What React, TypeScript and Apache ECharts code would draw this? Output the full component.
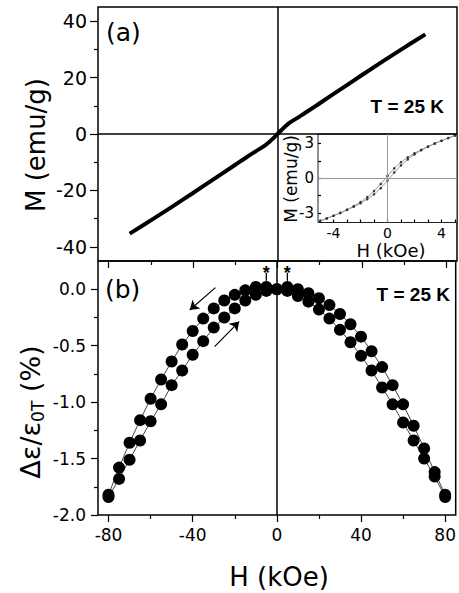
import React, { useEffect, useRef } from 'react';
import * as echarts from 'echarts';

// ---- Panel (a): magnetisation loop ----
const magH = [-70, -60, -50, -40, -30, -20, -15, -10, -6, -4, -2, 0, 2, 4, 6, 10, 15, 20, 30, 40, 50, 60, 70];
const magM = [-35.3, -30.6, -25.8, -20.9, -15.9, -10.9, -8.4, -6.0, -4.1, -2.9, -1.5, 0, 1.5, 2.9, 4.1, 6.0, 8.4, 10.9, 15.9, 20.9, 25.8, 30.6, 35.3];

// ---- Inset: low-field loop ----
const insetH = [-5, -4.5, -4, -3.5, -3, -2.5, -2, -1.5, -1, -0.5, 0, 0.5, 1, 1.5, 2, 2.5, 3, 3.5, 4, 4.5, 5];
const insetMDown = [-3.68, -3.45, -3.22, -2.98, -2.7, -2.4, -2.05, -1.62, -1.1, -0.5, 0.2, 0.85, 1.38, 1.8, 2.15, 2.45, 2.72, 2.98, 3.22, 3.45, 3.68];
const insetMUp = [-3.68, -3.45, -3.22, -2.98, -2.72, -2.45, -2.15, -1.8, -1.38, -0.85, -0.2, 0.5, 1.1, 1.62, 2.05, 2.4, 2.7, 2.98, 3.22, 3.45, 3.68];

// ---- Panel (b): magnetostriction ----
const strainH = [-80, -75, -70, -65, -60, -55, -50, -45, -40, -35, -30, -25, -20, -15, -10, -5, 0, 5, 10, 15, 20, 25, 30, 35, 40, 45, 50, 55, 60, 65, 70, 75, 80];
const strainOuter = [-1.82, -1.58, -1.36, -1.16, -0.97, -0.8, -0.64, -0.49, -0.37, -0.26, -0.17, -0.1, -0.05, -0.01, 0.02, 0.02, 0.0, 0.02, 0.0, -0.035, -0.08, -0.14, -0.22, -0.31, -0.42, -0.55, -0.69, -0.85, -1.02, -1.21, -1.41, -1.62, -1.82];
const strainInner = [-1.84, -1.68, -1.51, -1.34, -1.17, -1.02, -0.85, -0.72, -0.58, -0.46, -0.34, -0.25, -0.17, -0.1, -0.05, -0.015, 0.0, -0.015, -0.06, -0.11, -0.18, -0.26, -0.36, -0.47, -0.59, -0.72, -0.87, -1.02, -1.18, -1.34, -1.5, -1.66, -1.84];
const starH = [-5, 5];
const starLevel = 0.11;
const arrowSegments = [
  [[-29.2, 0.014], [-41.4, -0.184]],
  [[-29.6, -0.509], [-17.9, -0.287]],
];

// ---- Ticks ----
const hMajor = [-80, -40, 0, 40, 80];
const hMinor = [-60, -20, 20, 60];
const mMajor = [-40, -20, 0, 20, 40];
const mMinor = [-30, -10, 10, 30];
const sMajor = [-2, -1.5, -1, -0.5, 0];
const sLabels = ['-2.0', '-1.5', '-1.0', '-0.5', '0.0'];
const sMinor = [-1.75, -1.25, -0.75, -0.25];
const insetHLabels = [-4, 0, 4];
const insetHTicks = [-5, -4, -3, -2, -1, 0, 1, 2, 3, 4, 5];
const insetMLabels = [-3, 0, 3];
const insetMTicks = [-3, -1.5, 0, 1.5, 3];

const FONT = 'DejaVu Sans';
const tickStyle = { color: '#000', width: 1.2 };

function strainLabel(v: any) {
  const n = Number(v);
  const k = sMajor.findIndex((m) => Math.abs(m - n) < 1e-6);
  return k >= 0 ? sLabels[k] : String(v);
}

function axis(gridIndex: number, min: number, max: number, pos: string, labels: number[] | null, ticks: number[], len: number, fontSize: number, margin: number, fmt?: (v: any) => string, inside = false) {
  const a: any = {
    type: 'value', gridIndex, min, max, position: pos,
    axisLine: { show: false, onZero: false },
    splitLine: { show: false },
    axisTick: { show: true, inside, length: len, customValues: ticks, lineStyle: tickStyle },
    axisLabel: labels
      ? { show: true, customValues: labels, color: '#000', fontFamily: FONT, fontSize, margin }
      : { show: false },
  };
  if (labels && fmt) a.axisLabel.formatter = fmt;
  return a;
}

export default function App() {
  const ref = useRef<HTMLDivElement>(null);
  useEffect(() => {
    if (!ref.current) return;
    const chart = echarts.init(ref.current, undefined, { renderer: 'svg' });
    const option: any = {
      animation: false,
      backgroundColor: '#fff',
      grid: [
        { left: 98, top: 7, width: 359, height: 254, show: true, borderColor: '#000', borderWidth: 1.5, backgroundColor: 'transparent' },
        { left: 98, top: 261, width: 359, height: 254, show: true, borderColor: '#000', borderWidth: 1.5, backgroundColor: 'transparent' },
        { left: 318, top: 134, width: 139, height: 88.5, show: true, borderColor: '#222', borderWidth: 1, backgroundColor: '#fff' },
      ],
      xAxis: [
        axis(0, -85, 85, 'bottom', null, hMajor, 7, 17, 11),
        axis(0, -85, 85, 'bottom', null, hMinor, 4, 17, 11),
        axis(1, -85, 85, 'bottom', hMajor, hMajor, 7, 17, 11),
        axis(1, -85, 85, 'bottom', null, hMinor, 4, 17, 11),
        axis(2, -5.15, 5.15, 'bottom', insetHLabels, insetHTicks, 3, 14, 3, undefined, true),
      ],
      yAxis: [
        axis(0, -45, 45, 'left', mMajor, mMajor, 8, 19, 11),
        axis(0, -45, 45, 'left', null, mMinor, 4, 19, 11),
        axis(1, -2, 0.25, 'left', sMajor, sMajor, 7, 17, 12, strainLabel),
        axis(1, -2, 0.25, 'left', null, sMinor, 4, 17, 12),
        axis(2, -3.8, 3.8, 'left', insetMLabels, insetMTicks, 3, 15, 4, undefined, true),
      ],
      series: [
        {
          type: 'line', xAxisIndex: 0, yAxisIndex: 0,
          data: magH.map((h, i) => [h, magM[i]]),
          showSymbol: false, smooth: 0.4,
          lineStyle: { color: '#000', width: 4 },
          markLine: {
            silent: true, symbol: 'none', label: { show: false },
            lineStyle: { color: '#000', width: 1.5, type: 'solid' },
            data: [{ xAxis: 0 }, { yAxis: 0 }],
          },
        },
        {
          type: 'line', xAxisIndex: 4, yAxisIndex: 4,
          data: insetH.map((h, i) => [h, insetMDown[i]]),
          symbol: 'circle', symbolSize: 2.5,
          itemStyle: { color: '#333' },
          lineStyle: { color: '#9a9a9a', width: 1 },
          markLine: {
            silent: true, symbol: 'none', label: { show: false },
            lineStyle: { color: '#999', width: 1, type: 'solid' },
            data: [{ xAxis: 0 }, { yAxis: 0 }],
          },
        },
        {
          type: 'line', xAxisIndex: 4, yAxisIndex: 4,
          data: insetH.map((h, i) => [h, insetMUp[i]]),
          symbol: 'circle', symbolSize: 2.5,
          itemStyle: { color: '#333' },
          lineStyle: { color: '#9a9a9a', width: 1 },
        },
        {
          type: 'line', xAxisIndex: 2, yAxisIndex: 2,
          data: strainH.map((h, i) => [h, strainOuter[i]]),
          symbol: 'circle', symbolSize: 12,
          itemStyle: { color: '#000' },
          lineStyle: { color: '#444', width: 1 },
          markLine: {
            silent: true, symbol: 'none', label: { show: false },
            lineStyle: { color: '#000', width: 1.5, type: 'solid' },
            data: [{ xAxis: 0 }],
          },
        },
        {
          type: 'line', xAxisIndex: 2, yAxisIndex: 2,
          data: strainH.map((h, i) => [h, strainInner[i]]),
          symbol: 'circle', symbolSize: 12,
          itemStyle: { color: '#000' },
          lineStyle: { color: '#444', width: 1 },
          markLine: {
            silent: true, symbol: ['none', 'arrow'], symbolSize: 9, label: { show: false },
            lineStyle: { color: '#000', width: 1.2, type: 'solid' },
            data: arrowSegments.map((s) => [{ coord: s[0] }, { coord: s[1] }]),
          },
        },
        {
          type: 'scatter', xAxisIndex: 2, yAxisIndex: 2,
          data: starH.map((h) => [h, starLevel]),
          symbol: 'rect', symbolSize: [1.3, 8],
          itemStyle: { color: '#000', opacity: 1 },
          label: { show: true, formatter: '*', position: 'top', distance: 0, offset: [0, 9], color: '#000', fontFamily: 'Liberation Sans', fontWeight: 'bold', fontSize: 18 },
        },
      ],
      graphic: [
        { type: 'text', x: 106, y: 32, style: { text: '(a)', font: `25px "${FONT}"`, fill: '#000', align: 'left', verticalAlign: 'middle' } },
        { type: 'text', x: 105, y: 289, style: { text: '(b)', font: `25px "${FONT}"`, fill: '#000', align: 'left', verticalAlign: 'middle' } },
        { type: 'text', x: 444, y: 106.5, style: { text: 'T = 25 K', font: `bold 19px "Liberation Sans"`, fill: '#000', align: 'right', verticalAlign: 'middle' } },
        { type: 'text', x: 450, y: 294.5, style: { text: 'T = 25 K', font: `bold 19px "Liberation Sans"`, fill: '#000', align: 'right', verticalAlign: 'middle' } },
        { type: 'text', x: 36, y: 145, rotation: Math.PI / 2, style: { text: 'M (emu/g)', font: `26px "${FONT}"`, fill: '#000', align: 'center', verticalAlign: 'middle' } },
        {
          type: 'text', x: 30, y: 412, rotation: Math.PI / 2,
          style: {
            text: '{a|Δε/ε}{b|0T}{a| (%)}',
            align: 'center', verticalAlign: 'middle', fill: '#000',
            rich: {
              a: { fontFamily: FONT, fontSize: 27, lineHeight: 32, fill: '#000' },
              b: { fontFamily: FONT, fontSize: 17, lineHeight: 14, verticalAlign: 'bottom', fill: '#000' },
            },
          },
        },
        { type: 'text', x: 279, y: 577, style: { text: 'H (kOe)', font: `26px "${FONT}"`, fill: '#000', align: 'center', verticalAlign: 'middle' } },
        { type: 'text', x: 291, y: 179, rotation: Math.PI / 2, style: { text: 'M (emu/g)', font: `17px "${FONT}"`, fill: '#000', align: 'center', verticalAlign: 'middle' } },
        { type: 'text', x: 391, y: 250.5, style: { text: 'H (kOe)', font: `18px "${FONT}"`, fill: '#000', align: 'center', verticalAlign: 'middle' } },
      ],
    };
    chart.setOption(option);
    return () => chart.dispose();
  }, []);
  return <div ref={ref} style={{ position: 'fixed', left: 0, top: 0, width: 459, height: 593, background: '#fff' }} />;
}
